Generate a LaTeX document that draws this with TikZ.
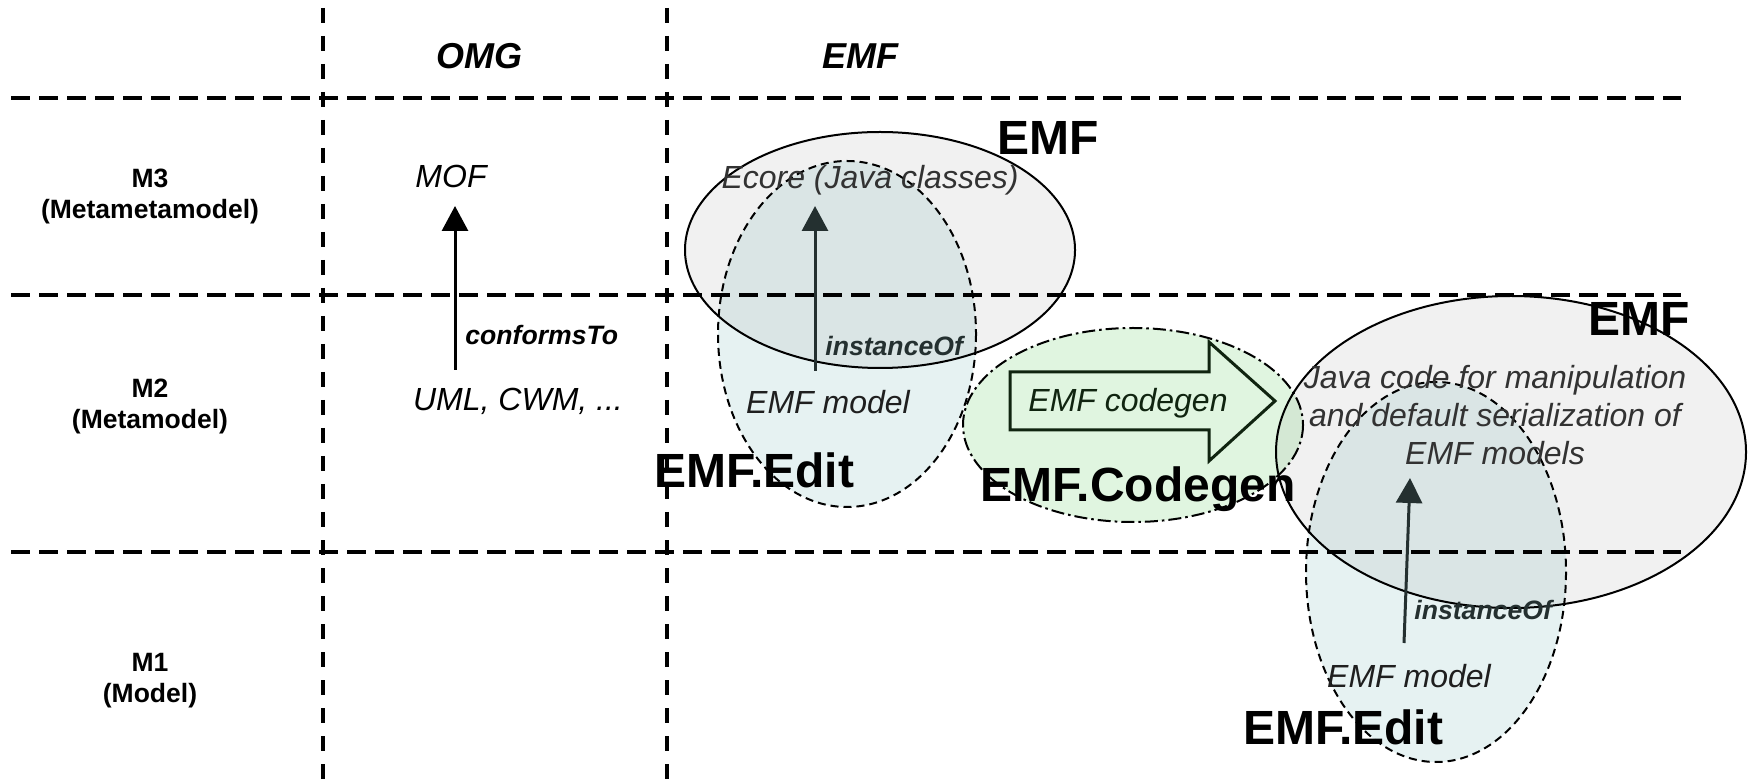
\documentclass[tikz,border=0pt]{standalone}
\usepackage{fontspec}
\setmainfont{Liberation Sans}
\usepackage{tikz}
\usetikzlibrary{arrows.meta}
\definecolor{emfgray}{RGB}{241,241,241}
\definecolor{editblue}{RGB}{230,242,242}
\definecolor{editover}{RGB}{218,229,229}
\definecolor{gengreen}{RGB}{224,245,224}
\definecolor{genover}{RGB}{212,232,212}
\definecolor{arrowdark}{RGB}{36,48,48}
\definecolor{txtgray}{RGB}{50,50,50}
\definecolor{gendark}{RGB}{16,36,16}
\tikzset{
	hgrid/.style={line width=2pt, dash pattern=on 9.5pt off 4.5pt},
	vgrid/.style={line width=2pt, dash pattern=on 7.5pt off 6.5pt},
	colhead/.style={font=\fontsize{18}{22}\selectfont\bfseries\itshape, anchor=base, inner sep=0pt},
	rowhead/.style={font=\fontsize{13.25}{15.5}\selectfont\bfseries, align=center, inner sep=0pt},
	modeltext/.style={font=\fontsize{16}{19}\selectfont\itshape, anchor=base, inner sep=0pt},
	toolname/.style={font=\fontsize{24}{28}\selectfont\bfseries, anchor=base, inner sep=0pt},
	reltext/.style={font=\fontsize{13.3}{16}\selectfont\bfseries\itshape, anchor=base west, inner sep=0pt},
	relarrow/.style={line width=1.5pt, -{Triangle[length=12.5pt,width=13pt]}},
	metaborder/.style={draw=black, line width=1pt},
	editborder/.style={draw=black, line width=1pt, dash pattern=on 4pt off 2.5pt},
	genborder/.style={draw=black, line width=1pt, dash pattern=on 6.5pt off 2pt on 1.3pt off 2pt},
}
\begin{document}
\begin{tikzpicture}[x=0.5pt, y=-0.5pt]
\useasboundingbox (0,0) rectangle (1748,779);

% fills
\fill[emfgray] (880,250) ellipse [x radius=195, y radius=118];
\fill[editblue] (847,334) ellipse [x radius=129, y radius=173];
\begin{scope}
\clip (880,250) ellipse [x radius=195, y radius=118];
\fill[editover] (847,334) ellipse [x radius=129, y radius=173];
\end{scope}
\fill[gengreen] (1133,425) ellipse [x radius=170, y radius=97];
\fill[emfgray] (1511,452) ellipse [x radius=235, y radius=156];
\fill[editblue] (1436,572) ellipse [x radius=130, y radius=190];
\begin{scope}
\clip (1511,452) ellipse [x radius=235, y radius=156];
\fill[editover] (1436,572) ellipse [x radius=130, y radius=190];
\fill[genover] (1133,425) ellipse [x radius=170, y radius=97];
\end{scope}

% grid
\draw[hgrid] (11,98) -- (1681,98);
\draw[hgrid] (11,295) -- (1681,295);
\draw[hgrid] (11,552) -- (1681,552);
\draw[vgrid] (323,8) -- (323,779);
\draw[vgrid] (667,8) -- (667,779);

% borders
\draw[metaborder] (880,250) ellipse [x radius=195, y radius=118];
\draw[editborder] (847,334) ellipse [x radius=129, y radius=173];
\draw[genborder] (1133,425) ellipse [x radius=170, y radius=97];
\draw[metaborder] (1511,452) ellipse [x radius=235, y radius=156];
\draw[editborder] (1436,572) ellipse [x radius=130, y radius=190];

% headers
\node[colhead] (omg) at (479,69) {OMG};
\node[colhead] (emfcol) at (860,69) {EMF};
\node[rowhead] (m3) at (150,197) {M3\\(Metametamodel)};
\node[rowhead] (m2) at (150,407) {M2\\(Metamodel)};
\node[rowhead] (m1) at (150,681) {M1\\(Model)};

% OMG column
\node[modeltext] (mof) at (451,188) {MOF};
\node[modeltext] (uml) at (518,411) {UML, CWM, ...};
\coordinate (cfbot) at (455,370);
\coordinate (cftop) at (455,206);
\draw[relarrow] (cfbot) -- (cftop);
\node[reltext] (conforms) at (465,345) {conformsTo};

% EMF column
\node[modeltext, txtgray] (ecore) at (870,189) {Ecore (Java classes)};
\node[toolname] (emfa) at (1048,155) {EMF};
\coordinate (ioabot) at (815,371);
\coordinate (ioatop) at (815,206);
\draw[relarrow, arrowdark] (ioabot) -- (ioatop);
\node[reltext, arrowdark] (insta) at (825,356) {instanceOf};
\node[modeltext, black!88] (modela) at (828,414) {EMF model};
\node[toolname] (edita) at (754,488) {EMF.Edit};

% codegen
\draw[gendark, line width=1.5pt] (1010,372) -- (1209,372) -- (1209,342) -- (1275,401)
	-- (1209,461) -- (1209,430) -- (1010,430) -- cycle;
\node[modeltext, gendark] (codegen) at (1128,412) {EMF codegen};
\node[toolname] (codegenname) at (1138,502) {EMF.Codegen};

% generated code
\node[font=\fontsize{16}{19}\selectfont\itshape, align=center, inner sep=0pt, txtgray] (javacode)
	at (1495,415) {Java code for manipulation\\and default serialization of\\EMF models};
\node[toolname] (emfb) at (1639,336) {EMF};
\coordinate (iobbot) at (1404,643);
\coordinate (iobtop) at (1410,478);
\draw[relarrow, arrowdark] (iobbot) -- (iobtop);
\node[reltext, arrowdark] (instb) at (1414,619) {instanceOf};
\node[modeltext, black!88] (modelb) at (1409,687) {EMF model};
\node[toolname] (editb) at (1343,744) {EMF.Edit};
\end{tikzpicture}
\end{document}
